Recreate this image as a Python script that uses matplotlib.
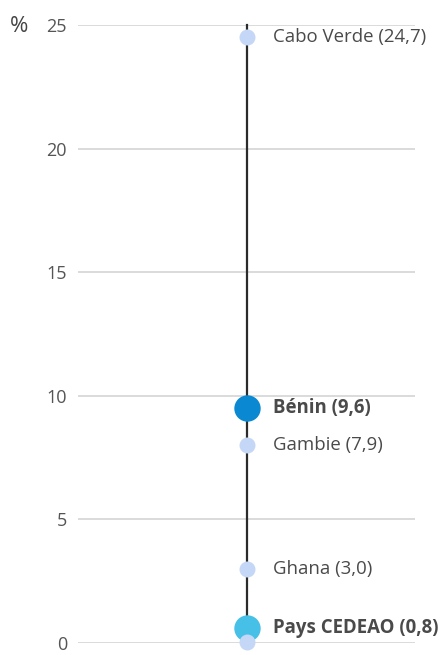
import matplotlib
matplotlib.use("Agg")
import matplotlib.pyplot as plt

# dot positions, with their printed labels
countries = ["Cabo Verde", "Bénin", "Gambie", "Ghana", "Pays CEDEAO", ""]
values = [24.5, 9.5, 8.0, 3.0, 0.6, 0.05]
labels = ["Cabo Verde (24,7)", "Bénin (9,6)", "Gambie (7,9)", "Ghana (3,0)",
          "Pays CEDEAO (0,8)", ""]
yticks = [0, 5, 10, 15, 20, 25]

C_LIGHT = "#c4d7f6"
C_BENIN = "#0a89d2"
C_CEDEAO = "#47c0e7"

plt.rcParams["font.family"] = ["Open Sans", "DejaVu Sans"]

fig = plt.figure(figsize=(4.42, 6.55), dpi=100)
ax = fig.add_axes([0.1765, 0.0183, 0.7625, 0.9435])
ax.set_xlim(0, 1)
ax.set_ylim(0, 25)

for t in yticks:
    ax.axhline(t, color="#d4d4d4", lw=1.2, zorder=0)

ax.plot([0.5, 0.5], [25, values[-1]], color="#2b2b2b", lw=1.6, zorder=1,
        clip_on=False)

for name, v, lab in zip(countries, values, labels):
    if name == "Bénin":
        c, ms, bold = C_BENIN, 19, True
    elif name == "Pays CEDEAO":
        c, ms, bold = C_CEDEAO, 19, True
    else:
        c, ms, bold = C_LIGHT, 11.5, False
    ax.plot(0.5, v, "o", ms=ms, color=c, mec="none", zorder=3, clip_on=False)
    if lab:
        ax.text(0.5 + 26 / 337, v, lab, ha="left", va="center",
                fontsize=13.4,
                color="#4a4a4a", fontweight="bold" if bold else "normal")

ax.set_yticks(yticks)
ax.set_yticklabels([str(t) for t in yticks], fontsize=13, color="#555555")
ax.tick_params(axis="y", length=0, pad=8)
ax.set_xticks([])
for s in ax.spines.values():
    s.set_visible(False)

fig.text(10 / 442, 1 - 27 / 655, "%", fontsize=16, color="#444444",
         ha="left", va="center")

fig.savefig("out.png", dpi=100)
